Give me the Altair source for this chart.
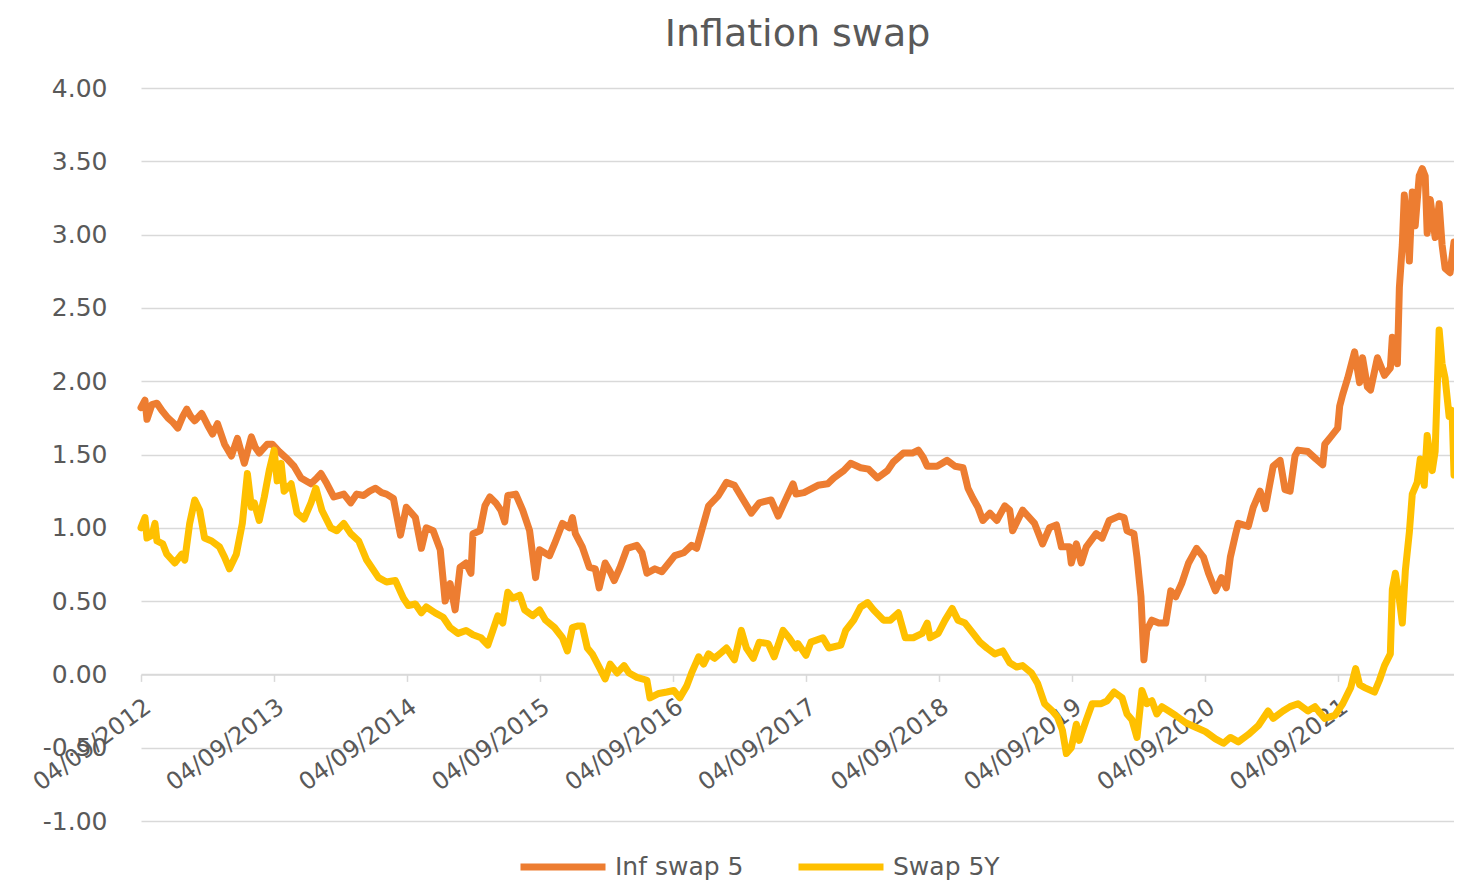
import altair as alt
import pandas as pd

# x = years elapsed since 04/09/2012, y = value (%)
START = "2012-09-04"
SPAN_YEARS = 9.873
series_names = ["Inf swap 5", "Swap 5Y"]
series_colors = ["#ED7D31", "#FFC000"]
tick_years = list(range(2012, 2022))
y_ticks = [-1.0, -0.5, 0.0, 0.5, 1.0, 1.5, 2.0, 2.5, 3.0, 3.5, 4.0]

inf_swap_5 = [
    (0.000, 1.82), (0.030, 1.87), (0.045, 1.74), (0.082, 1.84), (0.120, 1.85), (0.157, 1.80),
    (0.202, 1.75), (0.239, 1.72), (0.277, 1.68), (0.314, 1.76), (0.344, 1.81), (0.374, 1.76),
    (0.404, 1.73), (0.456, 1.78), (0.501, 1.70), (0.538, 1.64), (0.575, 1.71), (0.628, 1.57),
    (0.680, 1.49), (0.725, 1.61), (0.777, 1.44), (0.830, 1.62), (0.859, 1.55), (0.889, 1.51),
    (0.949, 1.57), (0.987, 1.57), (1.039, 1.52), (1.099, 1.47), (1.151, 1.42), (1.203, 1.34),
    (1.278, 1.30), (1.323, 1.34), (1.353, 1.37), (1.398, 1.30), (1.450, 1.21), (1.525, 1.23),
    (1.577, 1.17), (1.622, 1.23), (1.674, 1.22), (1.719, 1.25), (1.764, 1.27), (1.809, 1.24),
    (1.846, 1.23), (1.898, 1.20), (1.951, 0.95), (1.995, 1.14), (2.063, 1.07), (2.108, 0.86),
    (2.145, 1.00), (2.197, 0.98), (2.250, 0.85), (2.287, 0.50), (2.324, 0.62), (2.362, 0.44),
    (2.399, 0.73), (2.444, 0.76), (2.481, 0.69), (2.496, 0.96), (2.549, 0.98), (2.586, 1.15),
    (2.623, 1.21), (2.668, 1.17), (2.706, 1.12), (2.735, 1.04), (2.758, 1.22), (2.818, 1.23),
    (2.870, 1.12), (2.922, 0.98), (2.967, 0.66), (2.997, 0.85), (3.072, 0.81), (3.109, 0.89),
    (3.169, 1.03), (3.221, 1.00), (3.244, 1.07), (3.266, 0.96), (3.318, 0.87), (3.371, 0.73),
    (3.416, 0.72), (3.445, 0.59), (3.490, 0.76), (3.528, 0.70), (3.558, 0.64), (3.602, 0.73),
    (3.655, 0.86), (3.729, 0.88), (3.767, 0.83), (3.804, 0.69), (3.864, 0.72), (3.916, 0.70),
    (3.969, 0.76), (4.013, 0.81), (4.081, 0.83), (4.140, 0.88), (4.178, 0.86), (4.215, 0.98),
    (4.268, 1.15), (4.342, 1.22), (4.402, 1.31), (4.462, 1.29), (4.529, 1.19), (4.589, 1.10),
    (4.649, 1.17), (4.738, 1.19), (4.791, 1.08), (4.836, 1.17), (4.903, 1.30), (4.925, 1.23),
    (4.985, 1.24), (5.090, 1.29), (5.164, 1.30), (5.209, 1.34), (5.284, 1.39), (5.336, 1.44),
    (5.411, 1.41), (5.471, 1.40), (5.538, 1.34), (5.613, 1.39), (5.658, 1.45), (5.732, 1.51),
    (5.800, 1.51), (5.845, 1.53), (5.882, 1.48), (5.912, 1.42), (5.986, 1.42), (6.061, 1.46),
    (6.121, 1.42), (6.181, 1.41), (6.218, 1.27), (6.256, 1.20), (6.293, 1.14), (6.330, 1.05),
    (6.383, 1.10), (6.435, 1.05), (6.495, 1.15), (6.532, 1.12), (6.554, 0.98), (6.629, 1.12),
    (6.719, 1.03), (6.779, 0.89), (6.831, 1.00), (6.883, 1.02), (6.921, 0.87), (6.980, 0.87),
    (6.995, 0.76), (7.033, 0.89), (7.070, 0.76), (7.108, 0.87), (7.182, 0.96), (7.227, 0.93),
    (7.280, 1.05), (7.354, 1.08), (7.392, 1.07), (7.414, 0.98), (7.466, 0.96), (7.489, 0.80),
    (7.519, 0.53), (7.541, 0.10), (7.563, 0.30), (7.601, 0.37), (7.653, 0.35), (7.705, 0.35),
    (7.743, 0.57), (7.780, 0.53), (7.825, 0.62), (7.877, 0.76), (7.937, 0.86), (7.989, 0.80),
    (8.027, 0.69), (8.079, 0.57), (8.124, 0.66), (8.161, 0.59), (8.191, 0.80), (8.229, 0.95),
    (8.251, 1.03), (8.326, 1.01), (8.363, 1.14), (8.415, 1.25), (8.453, 1.13), (8.490, 1.31),
    (8.513, 1.42), (8.565, 1.46), (8.602, 1.26), (8.640, 1.25), (8.677, 1.49), (8.700, 1.53),
    (8.774, 1.52), (8.834, 1.47), (8.886, 1.43), (8.901, 1.57), (8.946, 1.62), (8.998, 1.68),
    (9.013, 1.83), (9.036, 1.91), (9.073, 2.02), (9.125, 2.20), (9.163, 1.99), (9.185, 2.16),
    (9.222, 1.96), (9.245, 1.94), (9.297, 2.16), (9.350, 2.04), (9.394, 2.09), (9.409, 2.30),
    (9.447, 2.12), (9.462, 2.64), (9.484, 2.93), (9.499, 3.27), (9.522, 3.06), (9.537, 2.82),
    (9.559, 3.29), (9.581, 3.06), (9.611, 3.40), (9.634, 3.45), (9.656, 3.40), (9.671, 3.01),
    (9.694, 3.24), (9.731, 2.98), (9.761, 3.21), (9.783, 2.93), (9.806, 2.77), (9.843, 2.74),
    (9.873, 2.95),
]

swap_5y = [
    (0.000, 1.00), (0.030, 1.07), (0.045, 0.93), (0.082, 0.95), (0.105, 1.03), (0.120, 0.91),
    (0.164, 0.89), (0.194, 0.82), (0.254, 0.76), (0.306, 0.82), (0.329, 0.78), (0.366, 1.03),
    (0.404, 1.19), (0.441, 1.12), (0.478, 0.93), (0.531, 0.91), (0.590, 0.87), (0.628, 0.80),
    (0.665, 0.72), (0.717, 0.82), (0.762, 1.03), (0.800, 1.37), (0.830, 1.14), (0.852, 1.17),
    (0.889, 1.05), (0.927, 1.21), (0.964, 1.39), (1.001, 1.53), (1.024, 1.32), (1.054, 1.44),
    (1.076, 1.25), (1.129, 1.30), (1.173, 1.10), (1.226, 1.06), (1.278, 1.17), (1.315, 1.27),
    (1.360, 1.12), (1.427, 1.00), (1.472, 0.98), (1.525, 1.03), (1.577, 0.96), (1.637, 0.91),
    (1.697, 0.78), (1.786, 0.66), (1.846, 0.63), (1.913, 0.64), (1.973, 0.52), (2.010, 0.47),
    (2.063, 0.48), (2.108, 0.42), (2.145, 0.46), (2.212, 0.42), (2.272, 0.39), (2.324, 0.32),
    (2.384, 0.28), (2.444, 0.30), (2.496, 0.27), (2.556, 0.25), (2.608, 0.20), (2.646, 0.30),
    (2.683, 0.40), (2.720, 0.35), (2.758, 0.56), (2.795, 0.52), (2.848, 0.54), (2.885, 0.44),
    (2.945, 0.40), (2.997, 0.44), (3.042, 0.37), (3.109, 0.32), (3.169, 0.25), (3.206, 0.16),
    (3.244, 0.32), (3.281, 0.33), (3.318, 0.33), (3.356, 0.18), (3.393, 0.14), (3.445, 0.05),
    (3.490, -0.03), (3.528, 0.07), (3.580, 0.01), (3.632, 0.06), (3.670, 0.01), (3.729, -0.02),
    (3.804, -0.04), (3.827, -0.16), (3.894, -0.13), (3.954, -0.12), (4.006, -0.11), (4.051, -0.16),
    (4.103, -0.08), (4.140, 0.01), (4.193, 0.12), (4.230, 0.07), (4.268, 0.14), (4.312, 0.11),
    (4.365, 0.15), (4.402, 0.18), (4.462, 0.10), (4.514, 0.30), (4.552, 0.18), (4.604, 0.11),
    (4.649, 0.22), (4.716, 0.21), (4.761, 0.12), (4.828, 0.30), (4.873, 0.25), (4.925, 0.18),
    (4.940, 0.21), (5.000, 0.13), (5.037, 0.22), (5.127, 0.25), (5.172, 0.18), (5.262, 0.20),
    (5.299, 0.30), (5.359, 0.37), (5.411, 0.46), (5.463, 0.49), (5.508, 0.44), (5.583, 0.37),
    (5.635, 0.37), (5.695, 0.42), (5.747, 0.25), (5.807, 0.25), (5.874, 0.28), (5.912, 0.35),
    (5.934, 0.25), (5.994, 0.28), (6.046, 0.37), (6.099, 0.45), (6.143, 0.37), (6.196, 0.35),
    (6.248, 0.29), (6.308, 0.22), (6.360, 0.18), (6.420, 0.14), (6.480, 0.16), (6.532, 0.08),
    (6.584, 0.05), (6.629, 0.06), (6.696, 0.01), (6.741, -0.06), (6.794, -0.20), (6.853, -0.25),
    (6.891, -0.29), (6.928, -0.38), (6.958, -0.54), (6.995, -0.50), (7.033, -0.34), (7.055, -0.45),
    (7.108, -0.31), (7.152, -0.20), (7.220, -0.20), (7.265, -0.18), (7.317, -0.12), (7.377, -0.16),
    (7.414, -0.27), (7.451, -0.31), (7.489, -0.43), (7.526, -0.11), (7.563, -0.20), (7.601, -0.18),
    (7.638, -0.27), (7.676, -0.22), (7.728, -0.25), (7.780, -0.28), (7.855, -0.33), (7.930, -0.36),
    (8.004, -0.39), (8.079, -0.44), (8.139, -0.47), (8.191, -0.43), (8.251, -0.46), (8.326, -0.41),
    (8.401, -0.35), (8.475, -0.25), (8.513, -0.30), (8.587, -0.25), (8.640, -0.22), (8.700, -0.20),
    (8.774, -0.25), (8.827, -0.22), (8.901, -0.30), (8.976, -0.28), (9.036, -0.20), (9.096, -0.09),
    (9.133, 0.04), (9.163, -0.07), (9.200, -0.09), (9.275, -0.12), (9.312, -0.04), (9.350, 0.06),
    (9.394, 0.14), (9.409, 0.58), (9.432, 0.69), (9.462, 0.51), (9.484, 0.35), (9.507, 0.71),
    (9.537, 0.97), (9.559, 1.23), (9.596, 1.31), (9.619, 1.47), (9.649, 1.29), (9.671, 1.63),
    (9.709, 1.39), (9.731, 1.52), (9.761, 2.35), (9.783, 2.12), (9.806, 2.02), (9.836, 1.76),
    (9.858, 1.80), (9.873, 1.36),
]

start = pd.Timestamp(START)


def to_frame(points, name):
    return pd.DataFrame({
        "date": [start + pd.Timedelta(days=t * 365.25) for t, _ in points],
        "value": [v for _, v in points],
        "series": name,
    })


df = pd.concat([to_frame(inf_swap_5, series_names[0]), to_frame(swap_5y, series_names[1])],
               ignore_index=True)

end = start + pd.Timedelta(days=SPAN_YEARS * 365.25)
x_domain = [
    alt.DateTime(year=start.year, month=start.month, date=start.day),
    alt.DateTime(year=end.year, month=end.month, date=end.day),
]
x_ticks = [alt.DateTime(year=y, month=9, date=4) for y in tick_years]

FONT = "DejaVu Sans"
GREY = "#595959"
GRID = "#d9d9d9"
PLOT_H = 733

chart = alt.Chart(df).mark_line(
    strokeWidth=7, strokeCap="round", strokeJoin="round"
).encode(
    x=alt.X(
        "date:T",
        scale=alt.Scale(domain=x_domain, nice=False),
        axis=alt.Axis(
            values=x_ticks, format="%d/%m/%Y", title=None, grid=False,
            domain=True, domainColor=GRID, domainWidth=1.5,
            ticks=True, tickColor=GRID, tickWidth=1.5, tickSize=7,
            offset=-PLOT_H / 5, labelAngle=-36, labelAlign="right", labelBaseline="top",
            labelPadding=13, labelFont=FONT, labelFontSize=24, labelColor=GREY,
            labelOverlap=False, labelBound=False, labelFlush=False,
        ),
    ),
    y=alt.Y(
        "value:Q",
        scale=alt.Scale(domain=[-1, 4], nice=False, zero=False),
        axis=alt.Axis(
            values=y_ticks, title=None, grid=True, gridColor=GRID,
            labelExpr="replace(format(datum.value, '.2f'), '\u2212', '-')",
            gridWidth=1.5, domain=False, ticks=False, labelPadding=34,
            labelFont=FONT, labelFontSize=25, labelColor=GREY,
        ),
    ),
    color=alt.Color(
        "series:N",
        scale=alt.Scale(domain=series_names, range=series_colors),
        legend=alt.Legend(
            title=None, orient="none", legendX=376, legendY=733, direction="horizontal",
            symbolType="stroke", symbolSize=7225, symbolStrokeWidth=7,
            labelFont=FONT, labelFontSize=25, labelColor=GREY, labelOffset=6,
            columnPadding=40, padding=0,
        ),
    ),
).properties(
    width=1313,
    height=PLOT_H,
    title=alt.TitleParams(
        "Inflation swap", font=FONT, fontSize=38, fontWeight="normal",
        color=GREY, anchor="middle", offset=22,
    ),
    padding={"left": 133, "top": 80, "right": 0, "bottom": 65},
    autosize=alt.AutoSizeParams(type="none"),
).configure_view(stroke=None)

chart.save("out.html", embed_options={"renderer": "svg", "actions": False})
